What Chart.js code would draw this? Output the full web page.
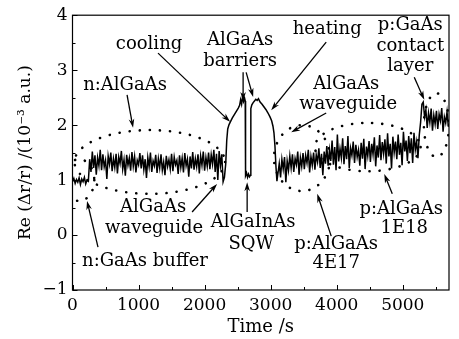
<!DOCTYPE html>
<html>
<head>
<meta charset="utf-8">
<script src="https://cdn.jsdelivr.net/npm/chart.js@4.4.0/dist/chart.umd.min.js"></script>
<style>
  html, body { margin: 0; padding: 0; background: #fff; }
  #wrap { width: 459px; height: 339px; }
</style>
</head>
<body>
<div id="wrap"><canvas id="chart"></canvas></div>
<script>
// axis ticks
const xTicks = [0, 1000, 2000, 3000, 4000, 5000];
const yTicks = [-1, 0, 1, 2, 3, 4];
const xTickMarks = [0, 500, 1000, 1500, 2000, 2500, 3000, 3500, 4000, 4500, 5000, 5500];
const yTickMarks = [-1, -0.5, 0, 0.5, 1, 1.5, 2, 2.5, 3, 3.5, 4];

// noisy parts are sampled every 20 s
const sampleStep = 20;

// n:GaAs buffer, from t = 0
const bufferStart = 0;
const bufferVals = [0.97, 1.03, 0.94, 1.01, 0.96, 1.04, 0.92, 1.02, 0.97, 1.05, 0.93, 1.00, 0.98];

// n:AlGaAs cladding, from t = 260
const nCladStart = 260;
const nCladVals = [
    1.38, 1.15, 1.52, 1.22, 1.45, 1.10, 1.41, 1.26, 1.55, 1.18,
    1.47, 1.24, 1.36, 1.02, 1.44, 1.29, 1.50, 1.16, 1.39, 1.23,
    1.48, 1.12, 1.42, 1.30, 1.53, 1.20, 1.37, 1.08, 1.46, 1.27,
    1.40, 1.17, 1.51, 1.25, 1.43, 1.14, 1.36, 1.28, 1.49, 1.21,
    1.45, 1.19, 1.38, 1.04, 1.41, 1.24, 1.50, 1.15, 1.35, 1.26,
    1.46, 1.13, 1.39, 1.22, 1.47, 1.18, 1.33, 1.09, 1.44, 1.25,
    1.37, 1.20, 1.48, 1.16, 1.42, 1.28, 1.36, 1.11, 1.45, 1.23,
    1.40, 1.14, 1.49, 1.26, 1.38, 1.06, 1.43, 1.21, 1.51, 1.19,
    1.39, 1.24, 1.47, 1.12, 1.44, 1.27, 1.52, 1.17, 1.41, 1.25,
    1.50, 1.20, 1.46, 1.29, 1.55, 1.15, 1.48, 1.00, 1.53, 1.26,
    1.47, 0.97, 1.05
];

// cooling towards the AlGaAs barrier
const coolTime = [2320, 2335, 2350, 2370, 2390, 2420, 2450, 2480, 2510, 2530, 2545, 2560, 2575, 2590, 2605, 2615];
const coolVals = [1.30, 1.72, 1.93, 2.01, 2.06, 2.13, 2.19, 2.25, 2.31, 2.36, 2.46, 2.38, 2.52, 2.43, 2.49, 2.44];

// AlGaInAs SQW
const sqwTime = [2620, 2635, 2650, 2665, 2680, 2695];
const sqwVals = [1.08, 1.13, 1.05, 1.11, 1.06, 1.09];

// second barrier and heating
const heatTime = [2700, 2715, 2735, 2755, 2775, 2795, 2815, 2840, 2870, 2900, 2930, 2960, 2990, 3015, 3035, 3050, 3065, 3080, 3095];
const heatVals = [2.30, 2.37, 2.41, 2.44, 2.47, 2.45, 2.48, 2.42, 2.38, 2.33, 2.28, 2.22, 2.15, 2.08, 1.98, 1.86, 1.62, 1.25, 0.98];

// p:AlGaAs cladding, from t = 3110
const pCladStart = 3110;
const pCladVals = [
    1.12, 1.30, 1.05, 1.38, 1.20, 1.42, 0.96, 1.35, 1.18, 1.44,
    1.22, 1.47, 1.15, 1.39, 1.28, 1.52, 1.10, 1.41, 1.25, 1.49,
    1.20, 1.45, 1.31, 1.55, 1.14, 1.43, 1.27, 1.50, 1.19, 1.46,
    1.33, 1.58, 1.22, 1.48, 1.09, 1.52, 1.30, 1.62, 1.26, 1.55,
    1.35, 1.72, 1.28, 1.60, 1.18, 1.83, 1.34, 1.57, 1.40, 1.76,
    1.29, 1.62, 1.38, 1.80, 1.22, 1.58, 1.45, 1.70, 1.31, 1.64,
    1.42, 1.55, 1.26, 1.68, 1.39, 1.75, 1.20, 1.61, 1.44, 1.71,
    1.33, 1.66, 1.47, 1.78, 1.25, 1.63, 1.41, 1.82, 1.36, 1.69,
    1.48, 1.74, 1.30, 1.85, 1.43, 1.66, 1.21, 1.79, 1.50, 1.70,
    1.38, 1.83, 1.46, 1.68, 1.27, 1.88, 1.52, 1.72, 1.35, 1.80,
    1.49, 1.76, 1.31, 1.86, 1.55, 1.70, 1.40, 1.82, 2.05, 2.38
];

// p:GaAs contact layer, from t = 5310
const contactStart = 5310;
const contactVals = [2.42, 2.15, 2.28, 1.95, 2.22, 2.05, 2.30, 1.90, 2.18, 2.02, 2.26, 1.93, 2.20, 2.08, 2.31, 1.88, 2.15, 2.04, 2.24, 1.97];

// dotted ellipses (data units: centre time, centre value, half widths)
const ellipses = [
    { t: 1170, v: 1.33, rt: 1140, rv: 0.58 },
    { t: 100, v: 1.00, rt: 230, rv: 0.38 },
    { t: 3475, v: 1.40, rt: 425, rv: 0.60 },
    { t: 4470, v: 1.60, rt: 800, rv: 0.44 },
    { t: 5510, v: 2.00, rt: 190, rv: 0.58 }
];

// annotation texts (data units)
const notes = [
    { text: "cooling", t: 1159, v: 3.47 },
    { text: "AlGaAs", t: 2538, v: 3.55 },
    { text: "barriers", t: 2538, v: 3.16 },
    { text: "heating", t: 3856, v: 3.75 },
    { text: "p:GaAs", t: 5114, v: 3.82 },
    { text: "contact", t: 5114, v: 3.44 },
    { text: "layer", t: 5114, v: 3.07 },
    { text: "AlGaAs", t: 4144, v: 2.75 },
    { text: "waveguide", t: 4174, v: 2.38 },
    { text: "n:AlGaAs", t: 795, v: 2.73 },
    { text: "AlGaAs", t: 1220, v: 0.51 },
    { text: "waveguide", t: 1235, v: 0.13 },
    { text: "n:GaAs buffer", t: 1098, v: -0.47 },
    { text: "AlGaInAs", t: 2735, v: 0.24 },
    { text: "SQW", t: 2705, v: -0.16 },
    { text: "p:AlGaAs", t: 3992, v: -0.16 },
    { text: "4E17", t: 3992, v: -0.51 },
    { text: "p:AlGaAs", t: 4977, v: 0.47 },
    { text: "1E18", t: 5023, v: 0.13 }
];

// arrows (data units)
const pointers = [
    { from: [1295, 3.31], to: [2386, 2.06] },
    { from: [2583, 2.96], to: [2583, 2.44] },
    { from: [2629, 2.96], to: [2735, 2.51] },
    { from: [3841, 3.51], to: [3008, 2.27] },
    { from: [5174, 2.87], to: [5326, 2.46] },
    { from: [3841, 2.22], to: [3311, 1.87] },
    { from: [826, 2.55], to: [917, 1.95] },
    { from: [1811, 0.42], to: [2189, 0.93] },
    { from: [386, -0.22], to: [220, 0.62] },
    { from: [2644, 0.42], to: [2644, 0.96] },
    { from: [3917, -0.02], to: [3705, 0.75] },
    { from: [4841, 0.75], to: [4720, 1.11] }
];

const points = [];
bufferVals.forEach((v, i) => points.push({ x: bufferStart + i * sampleStep, y: v }));
nCladVals.forEach((v, i) => points.push({ x: nCladStart + i * sampleStep, y: v }));
coolTime.forEach((t, i) => points.push({ x: t, y: coolVals[i] }));
sqwTime.forEach((t, i) => points.push({ x: t, y: sqwVals[i] }));
heatTime.forEach((t, i) => points.push({ x: t, y: heatVals[i] }));
pCladVals.forEach((v, i) => points.push({ x: pCladStart + i * sampleStep, y: v }));
contactVals.forEach((v, i) => points.push({ x: contactStart + i * sampleStep, y: v }));

const serif = "DejaVu Serif";

function drawArrow(ctx, x1, y1, x2, y2) {
    const a = Math.atan2(y2 - y1, x2 - x1);
    const len = 9, w = 2.8;
    const c = Math.cos(a), s = Math.sin(a);
    ctx.beginPath();
    ctx.moveTo(x1, y1);
    ctx.lineTo(x2 - c * len * 0.6, y2 - s * len * 0.6);
    ctx.stroke();
    ctx.beginPath();
    ctx.moveTo(x2, y2);
    ctx.lineTo(x2 - c * len + w * s, y2 - s * len - w * c);
    ctx.lineTo(x2 - c * len * 0.7, y2 - s * len * 0.7);
    ctx.lineTo(x2 - c * len - w * s, y2 - s * len + w * c);
    ctx.closePath();
    ctx.fill();
}

const decor = {
    id: "decor",
    beforeDatasetsDraw(chart) {
        const { ctx, chartArea: a, scales: { x, y } } = chart;
        ctx.save();
        ctx.beginPath();
        ctx.rect(a.left, a.top, a.right - a.left, a.bottom - a.top);
        ctx.clip();
        ctx.strokeStyle = "#000";
        ctx.lineWidth = 2.6;
        ctx.lineCap = "round";
        ctx.setLineDash([0.1, 10]);
        ellipses.forEach(e => {
            const cx = x.getPixelForValue(e.t), cy = y.getPixelForValue(e.v);
            const rx = Math.abs(x.getPixelForValue(e.t + e.rt) - cx);
            const ry = Math.abs(y.getPixelForValue(e.v + e.rv) - cy);
            ctx.beginPath();
            ctx.ellipse(cx, cy, rx, ry, 0, 0, Math.PI * 2);
            ctx.stroke();
        });
        ctx.restore();
    },
    afterDraw(chart) {
        const { ctx, chartArea: a, scales: { x, y } } = chart;
        ctx.save();
        ctx.strokeStyle = "#000";
        ctx.fillStyle = "#000";
        ctx.lineWidth = 1.2;
        ctx.strokeRect(a.left, a.top, a.right - a.left, a.bottom - a.top);

        // inward ticks
        ctx.lineWidth = 1;
        ctx.beginPath();
        xTickMarks.forEach(v => {
            const px = Math.round(x.getPixelForValue(v)) + 0.5;
            const len = xTicks.includes(v) ? 5 : 3;
            ctx.moveTo(px, a.bottom);
            ctx.lineTo(px, a.bottom - len);
        });
        yTickMarks.forEach(v => {
            const py = Math.round(y.getPixelForValue(v)) + 0.5;
            const len = yTicks.includes(v) ? 5 : 3;
            ctx.moveTo(a.left, py);
            ctx.lineTo(a.left + len, py);
        });
        ctx.stroke();

        // arrows
        ctx.lineWidth = 1.3;
        pointers.forEach(p => {
            drawArrow(ctx,
                x.getPixelForValue(p.from[0]), y.getPixelForValue(p.from[1]),
                x.getPixelForValue(p.to[0]), y.getPixelForValue(p.to[1]));
        });

        // labels
        ctx.font = "18px '" + serif + "'";
        ctx.textAlign = "center";
        ctx.textBaseline = "middle";
        notes.forEach(n => {
            ctx.fillText(n.text, x.getPixelForValue(n.t), y.getPixelForValue(n.v));
        });
        ctx.restore();
    }
};

new Chart(document.getElementById("chart"), {
    type: "line",
    data: {
        datasets: [{
            data: points,
            borderColor: "#000",
            borderWidth: 1.5,
            pointRadius: 0,
            tension: 0,
            fill: false
        }]
    },
    options: {
        responsive: true,
        maintainAspectRatio: false,
        animation: false,
        layout: {
            padding: { top: 15, right: 10, left: 0, bottom: 0 }
        },
        plugins: {
            legend: { display: false },
            tooltip: { enabled: false }
        },
        scales: {
            x: {
                type: "linear",
                min: 0,
                max: 5700,
                afterBuildTicks: s => { s.ticks = xTicks.map(v => ({ value: v })); },
                afterFit: s => { s.height = 49; },
                grid: { display: false, drawTicks: false },
                border: { display: false },
                ticks: {
                    padding: 5,
                    autoSkip: false,
                    maxRotation: 0,
                    color: "#000",
                    font: { family: serif, size: 17 },
                    callback: v => String(v)
                },
                title: {
                    display: true,
                    text: "Time /s",
                    color: "#000",
                    font: { family: serif, size: 18 },
                    padding: { top: 0, bottom: 1 }
                }
            },
            y: {
                min: -1,
                max: 4,
                afterBuildTicks: s => { s.ticks = yTicks.map(v => ({ value: v })); },
                afterFit: s => { s.width = 72.5; },
                grid: { display: false, drawTicks: false },
                border: { display: false },
                ticks: {
                    padding: 5,
                    color: "#000",
                    font: { family: serif, size: 17 },
                    callback: v => v < 0 ? "\u2212" + Math.abs(v) : String(v)
                },
                title: {
                    display: true,
                    text: "Re (\u0394r/r) /(10\u207B\u00B3 a.u.)",
                    color: "#000",
                    font: { family: serif, size: 17 },
                    padding: { top: 15, bottom: 0 }
                }
            }
        }
    },
    plugins: [decor]
});
</script>
</body>
</html>
